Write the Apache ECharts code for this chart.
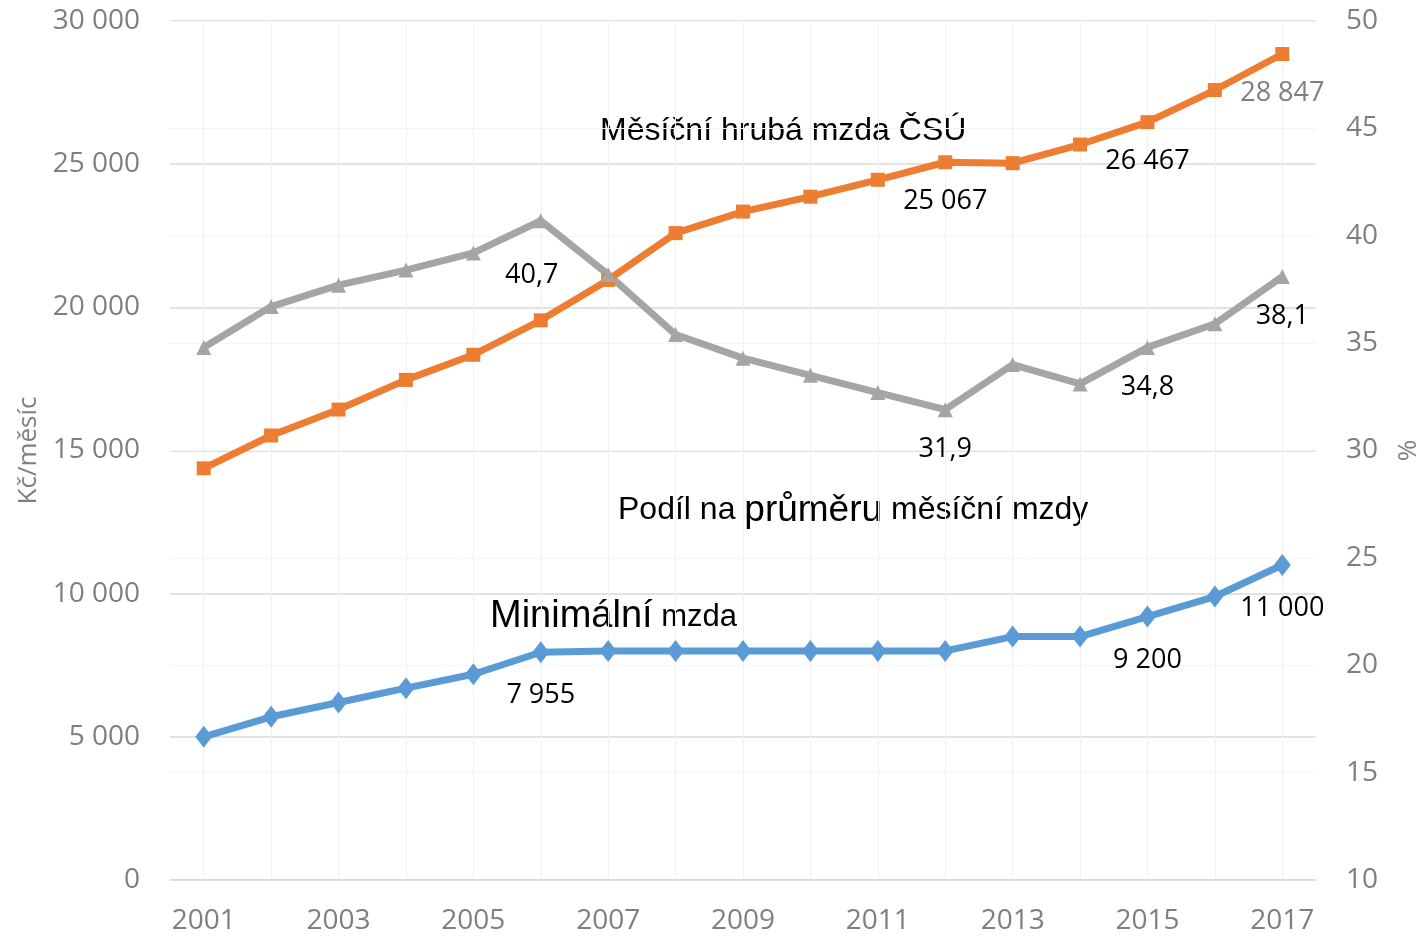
<!DOCTYPE html>
<html>
<head>
<meta charset="utf-8">
<script src="https://cdn.jsdelivr.net/npm/echarts@6/dist/echarts.min.js"></script>
<style>
  html, body { margin: 0; padding: 0; background: #fff; }
  #chart { width: 1425px; height: 936px; }
</style>
</head>
<body>
<div id="chart"></div>
<script>
let years = ['2001','2002','2003','2004','2005','2006','2007','2008','2009','2010','2011','2012','2013','2014','2015','2016','2017'];
// Kč/měsíc
let grossWage = [14378, 15524, 16430, 17466, 18344, 19546, 20957, 22592, 23344, 23864, 24455, 25067, 25035, 25686, 26467, 27589, 28847];
let minWage = [5000, 5700, 6200, 6700, 7185, 7955, 8000, 8000, 8000, 8000, 8000, 8000, 8500, 8500, 9200, 9900, 11000];
// % podíl minimální mzdy na průměrné
let share = [34.8, 36.7, 37.7, 38.4, 39.2, 40.7, 38.2, 35.4, 34.3, 33.5, 32.7, 31.9, 34.0, 33.1, 34.8, 35.9, 38.1];
// which points carry a value label
let grossLabeled = [11, 14, 16];
let minLabeled = [5, 14, 16];
let shareLabeled = [5, 11, 14, 16];

let numFont = '"Open Sans", "Noto Sans", sans-serif';
let textFont = '"Liberation Sans", Arial, sans-serif';
let gray = '#7f7f7f';

let fmtCz = function (v) {
  return String(v).replace(/\B(?=(\d{3})+(?!\d))/g, ' ');
};

let withLabels = function (values, labeled, fmt, extra) {
  return values.map(function (v, i) {
    if (labeled.indexOf(i) < 0) return v;
    let lab = {
      show: true,
      position: 'bottom',
      distance: 19,
      color: '#000',
      fontSize: 27,
      fontFamily: numFont,
      formatter: function () { return fmt(v); }
    };
    if (extra && extra[i]) Object.assign(lab, extra[i]);
    return { value: v, label: lab };
  });
};

let chart = echarts.init(document.getElementById('chart'));
chart.setOption({
  backgroundColor: '#fff',
  animation: false,
  grid: { left: 170, right: 109, top: 21, bottom: 56, containLabel: false, outerBoundsMode: 'none' },
  xAxis: {
    type: 'category',
    data: years,
    boundaryGap: true,
    axisLine: { lineStyle: { color: '#d9d9d9', width: 1.5 } },
    axisTick: { show: false, alignWithLabel: true, interval: 0 },
    axisLabel: { interval: 1, color: gray, fontSize: 28, fontFamily: numFont, margin: 27 },
    splitLine: { show: true, interval: 0, alignWithLabel: true, lineStyle: { color: '#f0f0f0', width: 1 } }
  },
  yAxis: [
    {
      type: 'value',
      min: 0, max: 30000, interval: 5000,
      name: 'Kč/měsíc',
      nameLocation: 'middle',
      nameGap: 128,
      nameTextStyle: { color: gray, fontSize: 26, fontFamily: numFont },
      axisLine: { show: false },
      axisTick: { show: false },
      axisLabel: { color: gray, fontSize: 28, fontFamily: numFont, margin: 30, formatter: fmtCz },
      splitLine: { lineStyle: { color: '#d9d9d9', width: 1.5 } }
    },
    {
      type: 'value',
      min: 10, max: 50, interval: 5,
      name: '%',
      nameLocation: 'middle',
      nameGap: 80,
      nameTextStyle: { color: gray, fontSize: 26, fontFamily: numFont },
      axisLine: { show: false },
      axisTick: { show: false },
      axisLabel: { color: gray, fontSize: 28, fontFamily: numFont, margin: 30 },
      splitLine: { lineStyle: { color: '#f4f4f4', width: 1 } }
    }
  ],
  series: [
    {
      name: 'Minimální mzda',
      type: 'line',
      yAxisIndex: 0,
      symbol: 'diamond',
      symbolSize: [17, 22],
      itemStyle: { color: '#5b9bd5' },
      lineStyle: { color: '#5b9bd5', width: 7 },
      data: withLabels(minWage, minLabeled, fmtCz)
    },
    {
      name: 'Měsíční hrubá mzda ČSÚ',
      type: 'line',
      yAxisIndex: 0,
      symbol: 'rect',
      symbolSize: 14,
      itemStyle: { color: '#ed7d31' },
      lineStyle: { color: '#ed7d31', width: 7 },
      data: withLabels(grossWage, grossLabeled, fmtCz, { 16: { color: gray } })
    },
    {
      name: 'Podíl na průměru měsíční mzdy',
      type: 'line',
      yAxisIndex: 1,
      symbol: 'triangle',
      symbolSize: 15,
      itemStyle: { color: '#a5a5a5' },
      lineStyle: { color: '#a5a5a5', width: 7 },
      data: withLabels(share, shareLabeled, function (v) { return v.toFixed(1).replace('.', ','); },
        { 5: { distance: 34, offset: [-9, 0] } })
    }
  ],
  graphic: [
    {
      type: 'text', left: 600, top: 115,
      style: { text: 'Měsíční hrubá mzda ČSÚ', fill: '#000', font: '32px ' + textFont }
    },
    {
      type: 'text', left: 618, top: 492,
      style: {
        text: '{a|Podíl na }{b|průměru}{a| měsíční mzdy}',
        rich: {
          a: { fontSize: 32, fontFamily: textFont, fill: '#000', color: '#000' },
          b: { fontSize: 37, fontFamily: textFont, fill: '#000', color: '#000' }
        }
      }
    },
    {
      type: 'text', left: 490, top: 598,
      style: {
        text: '{b|Minimální}{a| mzda}',
        rich: {
          a: { fontSize: 31, fontFamily: textFont, fill: '#000', color: '#000' },
          b: { fontSize: 38, fontFamily: textFont, fill: '#000', color: '#000' }
        }
      }
    }
  ]
});
</script>
</body>
</html>
